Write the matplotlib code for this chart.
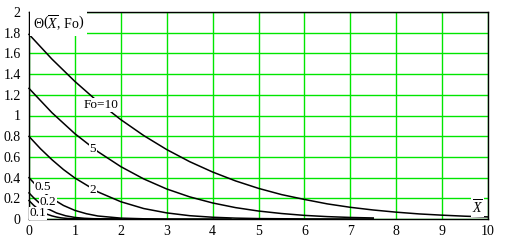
import matplotlib
matplotlib.use("Agg")
import matplotlib.pyplot as plt

# curve readings, Theta(X, Fo)
x_fo10 = [0, 0.5, 1, 1.5, 2, 2.5, 3, 3.5, 4, 4.5, 5, 5.5, 6, 6.5, 7, 7.5, 8, 8.5, 9, 9.5, 10]
y_fo10 = [1.784, 1.545, 1.329, 1.134, 0.960, 0.806, 0.671, 0.554, 0.454, 0.368, 0.296,
          0.236, 0.189, 0.146, 0.113, 0.087, 0.066, 0.049, 0.037, 0.027, 0.020]

x_fo5 = [0, 0.5, 1, 1.5, 2, 2.5, 3, 3.5, 4, 4.5, 5, 5.5, 6, 6.5, 7, 7.5]
y_fo5 = [1.262, 1.027, 0.824, 0.651, 0.506, 0.387, 0.290, 0.214, 0.155, 0.110, 0.077,
         0.053, 0.035, 0.023, 0.015, 0.010]

x_fo2 = [0, 0.25, 0.5, 0.75, 1, 1.5, 2, 2.5, 3, 3.5, 4, 4.5, 5, 6, 7.5]
y_fo2 = [0.798, 0.679, 0.573, 0.478, 0.396, 0.262, 0.167, 0.101, 0.059, 0.032, 0.017,
         0.0085, 0.004, 0.001, 0.0]

x_fo05 = [0, 0.1, 0.2, 0.3, 0.4, 0.5, 0.75, 1, 1.25, 1.5, 2, 2.5, 3, 4.4]
y_fo05 = [0.399, 0.351, 0.307, 0.267, 0.230, 0.198, 0.131, 0.083, 0.051, 0.029, 0.0085,
          0.002, 0.0005, 0.0]

x_fo02 = [0, 0.1, 0.2, 0.3, 0.4, 0.6, 0.8, 1.0, 1.2, 1.4, 1.6, 2]
y_fo02 = [0.252, 0.206, 0.165, 0.130, 0.101, 0.058, 0.031, 0.015, 0.007, 0.003, 0.001, 0.0]

x_fo01 = [0, 0.1, 0.2, 0.3, 0.4, 0.5, 0.6, 0.7, 0.8, 0.9, 1.0, 1.2, 2]
y_fo01 = [0.178, 0.133, 0.096, 0.067, 0.045, 0.030, 0.019, 0.011, 0.0066, 0.0037, 0.002,
          0.0005, 0.0]

curves = [(x_fo10, y_fo10), (x_fo5, y_fo5), (x_fo2, y_fo2),
          (x_fo05, y_fo05), (x_fo02, y_fo02), (x_fo01, y_fo01)]

# curve labels and where they sit
curve_labels = ["Fo=10", "5", "2", "0.5", "0.2", "0.1"]
label_x = [1.57, 1.39, 1.39, 0.30, 0.41, 0.19]
label_y = [1.10, 0.68, 0.28, 0.31, 0.166, 0.055]

x_ticks = list(range(0, 11))
y_ticks = [0, 0.2, 0.4, 0.6, 0.8, 1, 1.2, 1.4, 1.6, 1.8, 2]
y_ticklabels = ["0", "0.2", "0.4", "0.6", "0.8", "1", "1.2", "1.4", "1.6", "1.8", "2"]

serif = "Liberation Serif"
plt.rcParams['font.family'] = serif
plt.rcParams['mathtext.fontset'] = 'custom'
plt.rcParams['mathtext.rm'] = serif
plt.rcParams['mathtext.it'] = serif + ':italic'

fig = plt.figure(figsize=(5.05, 2.41), dpi=100)
ax = fig.add_axes([29 / 505, 22 / 241, 459 / 505, 207 / 241])

for xs, ys in curves:
    ax.plot(xs, ys, color='black', lw=1.1, clip_on=False, zorder=3)

ax.set_xlim(0, 10)
ax.set_ylim(0, 2)
ax.set_xticks(x_ticks)
ax.set_yticks(y_ticks)
ax.set_yticklabels(y_ticklabels)
ax.tick_params(length=0, labelsize=10)
ax.tick_params(axis='y', pad=6)
ax.tick_params(axis='x', pad=4)
ax.grid(True, color='#00e600', lw=1.0)
ax.set_axisbelow(True)
for s in ax.spines.values():
    s.set_color('black')
    s.set_linewidth(1.0)
    s.set_zorder(4)

box = dict(facecolor='white', edgecolor='none', pad=0.6)
for txt, lx, ly in zip(curve_labels, label_x, label_y):
    ax.text(lx, ly, txt, fontsize=9.5, ha='center', va='center', bbox=box, zorder=5)

ax.text(0.08, 1.885, r'$\Theta\left(\overline{X},\,\mathrm{Fo}\right)$', fontsize=10,
        ha='left', va='center', zorder=5,
        bbox=dict(facecolor='white', edgecolor='none', pad=2.2))
ax.text(9.78, 0.115, r'$\overline{X}$', fontsize=10, ha='center', va='center',
        bbox=box, zorder=5)

fig.savefig("out.png", dpi=100)
